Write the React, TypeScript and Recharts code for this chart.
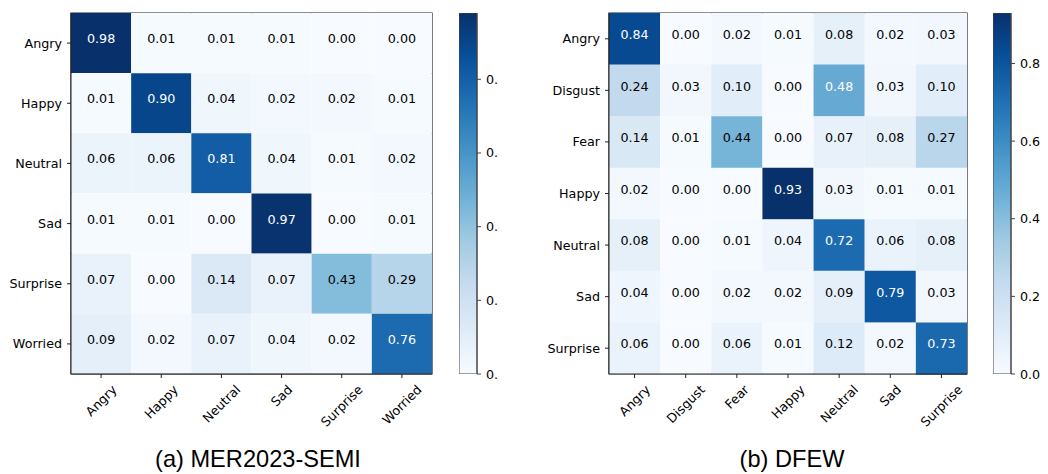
import { BarChart, Bar, XAxis, YAxis, Cell, LabelList, ReferenceArea } from "recharts";

// MER2023-SEMI confusion matrix
const merLabels = ["Angry", "Happy", "Neutral", "Sad", "Surprise", "Worried"];
const merMatrix = [
  [0.98, 0.01, 0.01, 0.01, 0.0, 0.0],
  [0.01, 0.9, 0.04, 0.02, 0.02, 0.01],
  [0.06, 0.06, 0.81, 0.04, 0.01, 0.02],
  [0.01, 0.01, 0.0, 0.97, 0.0, 0.01],
  [0.07, 0.0, 0.14, 0.07, 0.43, 0.29],
  [0.09, 0.02, 0.07, 0.04, 0.02, 0.76],
];

// DFEW confusion matrix
const dfewLabels = ["Angry", "Disgust", "Fear", "Happy", "Neutral", "Sad", "Surprise"];
const dfewMatrix = [
  [0.84, 0.0, 0.02, 0.01, 0.08, 0.02, 0.03],
  [0.24, 0.03, 0.1, 0.0, 0.48, 0.03, 0.1],
  [0.14, 0.01, 0.44, 0.0, 0.07, 0.08, 0.27],
  [0.02, 0.0, 0.0, 0.93, 0.03, 0.01, 0.01],
  [0.08, 0.0, 0.01, 0.04, 0.72, 0.06, 0.08],
  [0.04, 0.0, 0.02, 0.02, 0.09, 0.79, 0.03],
  [0.06, 0.0, 0.06, 0.01, 0.12, 0.02, 0.73],
];

const colorbarTicks = [0, 0.2, 0.4, 0.6, 0.8];

// matplotlib "Blues"
const BLUES = ["#f7fbff", "#deebf7", "#c6dbef", "#9ecae1", "#6baed6", "#4292c6", "#2171b5", "#08519c", "#08306b"];

const FONT = "DejaVu Sans";
const FS = 12.7;

function hex(c: string) {
  return [1, 3, 5].map((i) => parseInt(c.slice(i, i + 2), 16));
}

function blues(t: number) {
  const v = Math.max(0, Math.min(1, t)) * (BLUES.length - 1);
  const i = Math.min(Math.floor(v), BLUES.length - 2);
  const f = v - i;
  const a = hex(BLUES[i]);
  const b = hex(BLUES[i + 1]);
  const rgb = a.map((x, k) => Math.round(x + (b[k] - x) * f));
  return `rgb(${rgb.join(",")})`;
}

const ctx = document.createElement("canvas").getContext("2d");
function textWidth(s: string) {
  if (!ctx) return s.length * 7;
  ctx.font = `${FS}px "${FONT}"`;
  return ctx.measureText(s).width;
}

function RotatedTick(props: any) {
  const { x, y, payload, labels } = props;
  const label = labels[Math.floor(payload.value)];
  const hr = (textWidth(label) + FS * 1.17) / Math.SQRT2;
  return (
    <g transform={`translate(${x},${y + hr / 2})`}>
      <text
        transform="rotate(-45)"
        textAnchor="middle"
        dominantBaseline="central"
        fontSize={FS}
        fontFamily={FONT}
        fill="#000"
      >
        {label}
      </text>
    </g>
  );
}

function Matrix({
  left,
  yAxisWidth,
  plotW,
  labels,
  matrix,
}: {
  left: number;
  yAxisWidth: number;
  plotW: number;
  labels: string[];
  matrix: number[][];
}) {
  const n = labels.length;
  const flat = matrix.flat();
  const vmin = Math.min(...flat);
  const vmax = Math.max(...flat);
  const thresh = (vmax + vmin) / 2;

  const data = labels.map((name, i) => {
    const row: Record<string, any> = { name };
    labels.forEach((_, j) => {
      row[`c${j}`] = 1;
      row[`v${j}`] = matrix[i][j];
    });
    return row;
  });

  return (
    <div style={{ position: "absolute", left, top: 0 }}>
      <BarChart
        width={yAxisWidth + plotW + 8}
        height={474}
        data={data}
        layout="vertical"
        margin={{ top: 13, right: 8, bottom: 0, left: 0 }}
        barCategoryGap={0}
        barGap={0}
      >
        <XAxis
          type="number"
          domain={[0, n]}
          ticks={labels.map((_, j) => j + 0.5)}
          interval={0}
          height={100}
          tickSize={4}
          tickMargin={4}
          stroke="#222"
          tick={<RotatedTick labels={labels} />}
          allowDataOverflow
        />
        <YAxis
          type="category"
          dataKey="name"
          width={yAxisWidth}
          tickSize={4}
          tickMargin={5}
          stroke="#222"
          tick={{ fill: "#000", fontSize: FS, fontFamily: FONT }}
        />
        {labels.map((_, j) => (
          <Bar key={j} dataKey={`c${j}`} stackId="m" isAnimationActive={false}>
            {data.map((_, i) => (
              <Cell key={i} fill={blues((matrix[i][j] - vmin) / (vmax - vmin))} />
            ))}
            <LabelList
              dataKey={`v${j}`}
              content={(p: any) => (
                <text
                  x={p.x + p.width / 2}
                  y={p.y + p.height / 2 - 4.5}
                  textAnchor="middle"
                  dominantBaseline="central"
                  fontSize={FS}
                  fontFamily={FONT}
                  fill={p.value > thresh ? "#fff" : "#000"}
                >
                  {Number(p.value).toFixed(2)}
                </text>
              )}
            />
          </Bar>
        ))}
        <ReferenceArea x1={0} x2={n} fill="none" stroke="#222" strokeWidth={1.2} ifOverflow="visible" />
      </BarChart>
    </div>
  );
}

function Colorbar({
  left,
  id,
  vmax,
  format,
}: {
  left: number;
  id: string;
  vmax: number;
  format: (v: number) => string;
}) {
  return (
    <div style={{ position: "absolute", left, top: 0 }}>
      <BarChart
        width={18 + 60}
        height={474}
        data={[{ name: "cb", v: vmax }]}
        margin={{ top: 13, right: 0, bottom: 100, left: 0 }}
        barCategoryGap={0}
      >
        <defs>
          <linearGradient id={id} x1="0" y1="1" x2="0" y2="0">
            {BLUES.map((c, k) => (
              <stop key={k} offset={k / (BLUES.length - 1)} stopColor={c} />
            ))}
          </linearGradient>
        </defs>
        <XAxis dataKey="name" type="category" hide />
        <YAxis
          orientation="right"
          type="number"
          domain={[0, vmax]}
          ticks={colorbarTicks}
          interval={0}
          width={60}
          tickSize={4}
          tickMargin={5}
          stroke="#444"
          tickFormatter={format}
          tick={{ fill: "#000", fontSize: FS, fontFamily: FONT, textAnchor: "start" }}
          allowDataOverflow
        />
        <Bar dataKey="v" fill={`url(#${id})`} stroke="#444" strokeWidth={1} isAnimationActive={false} />
      </BarChart>
    </div>
  );
}

const titleStyle = {
  position: "absolute" as const,
  top: 448,
  fontFamily: "'Liberation Sans', Arial, sans-serif",
  fontSize: 23.6,
  lineHeight: "23px",
  color: "#000",
  whiteSpace: "nowrap" as const,
  transform: "translateX(-50%)",
};

export default function App() {
  const merMax = Math.max(...merMatrix.flat());
  const dfewMax = Math.max(...dfewMatrix.flat());
  return (
    <div
      style={{
        position: "absolute",
        left: 0,
        top: 0,
        width: 1048,
        height: 474,
        overflow: "hidden",
        background: "#fff",
      }}
    >
      <Matrix left={0} yAxisWidth={71} plotW={361} labels={merLabels} matrix={merMatrix} />
      <Colorbar left={459} id="cb-a" vmax={merMax} format={() => "0."} />
      <Matrix left={520} yAxisWidth={89} plotW={358} labels={dfewLabels} matrix={dfewMatrix} />
      <Colorbar left={993} id="cb-b" vmax={dfewMax} format={(v) => v.toFixed(1)} />
      <div style={{ ...titleStyle, left: 258 }}>(a) MER2023-SEMI</div>
      <div style={{ ...titleStyle, left: 792 }}>(b) DFEW</div>
    </div>
  );
}
